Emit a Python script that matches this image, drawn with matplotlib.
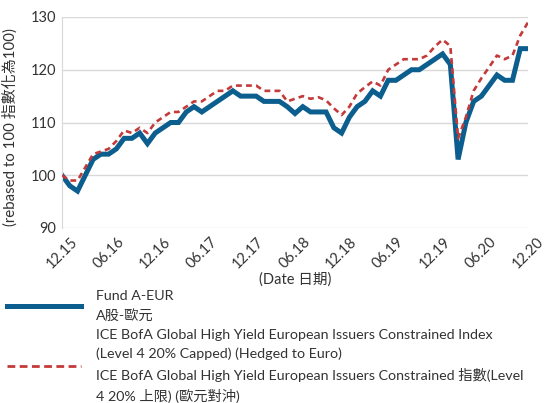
import matplotlib.pyplot as plt
import matplotlib.lines as mlines

plt.rcParams['font.family'] = ['Lato', 'Noto Sans CJK TC', 'DejaVu Sans']

# monthly values, 12.2015 -> 12.2020
fund = [100, 98, 97, 100, 103, 104, 104, 105, 107, 107, 108, 106,
        108, 109, 110, 110, 112, 113, 112, 113, 114, 115, 116, 115,
        115, 115, 114, 114, 114, 113, 111.7, 113, 112, 112, 112, 109,
        108, 111, 113, 114, 116, 115, 118, 118, 119, 120, 120, 121,
        122, 123, 121, 103, 110, 114, 115, 117, 119, 118, 118, 124,
        124]
index = [100, 99, 99, 101.5, 104, 104.5, 105, 106.5, 108.5, 108, 109, 108,
         110, 111, 112, 112, 113, 114, 114, 115, 116, 116, 117, 117,
         117, 117, 116, 116, 116, 114, 114.5, 115, 114.5, 114.8, 114.2, 112.7,
         111.4, 113, 115.5, 116.7, 117.8, 117, 120, 121, 122, 122, 122, 122.7,
         124.4, 125.7, 124.5, 107, 111, 116, 118.4, 120.5, 122.7, 122, 122.7, 126.5,
         129]
tick_labels = ['12.15', '06.16', '12.16', '06.17', '12.17', '06.18',
               '12.18', '06.19', '12.19', '06.20', '12.20']
fund_label = 'Fund A-EUR\nA股-歐元'
index_label = ('ICE BofA Global High Yield European Issuers Constrained Index\n'
               '(Level 4 20% Capped) (Hedged to Euro)\n'
               'ICE BofA Global High Yield European Issuers Constrained 指數(Level\n'
               '4 20% 上限) (歐元對沖)')

blue = '#0b5e8e'
red = '#c43a3a'
txt = '#333333'

fig = plt.figure(figsize=(5.52, 4.03), dpi=100)
ax = fig.add_axes([62/552, 1-228/403, 466/552, 211/403])

months = list(range(len(fund)))
ax.plot(months, index, color=red, lw=1.9, dashes=(2.2, 1.6), zorder=3)
ax.plot(months, fund, color=blue, lw=3.6, zorder=2, solid_joinstyle='miter')

ax.set_xlim(0, 60)
ax.set_ylim(90, 130)
ax.set_yticks([90, 100, 110, 120, 130])
ax.set_xticks(range(0, 61, 6))
ax.set_xticklabels(tick_labels, rotation=45, ha='center')
ax.tick_params(length=0, labelsize=10.5, colors=txt, pad=4)
ax.tick_params(axis='x', pad=5)
ax.grid(axis='y', color='#d9d9d9', lw=1)
ax.set_axisbelow(True)
for s in ['top', 'right', 'bottom']:
    ax.spines[s].set_visible(False)
ax.spines['left'].set_color('#d9d9d9')

ax.set_ylabel('(rebased to 100 指數化為100)', fontsize=10.8, color=txt)
ax.yaxis.set_label_coords(-44/466, 0.48)
ax.set_xlabel('(Date 日期)', fontsize=10.5, color=txt, labelpad=1)

h1 = mlines.Line2D([], [], color=blue, lw=3.6)
h2 = mlines.Line2D([], [], color=red, lw=2.0, dashes=(2.8, 1.6))
leg = fig.legend([h1, h2], [fund_label, index_label], loc='upper left',
                 bbox_to_anchor=(7/552, 1-290/403), frameon=False, fontsize=10.3,
                 labelcolor=txt, handlelength=5.15, handletextpad=1.05,
                 borderaxespad=0, borderpad=0, labelspacing=0.5)
for t in leg.get_texts():
    t.set_linespacing(1.63)

fig.savefig('out.png', dpi=100)
